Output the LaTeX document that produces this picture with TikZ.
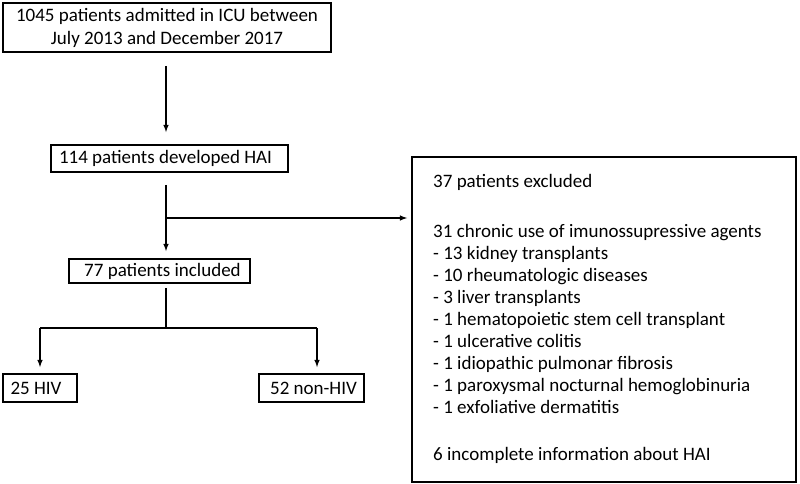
\documentclass[tikz,border=0pt]{standalone}
\usepackage{fontspec}
\setmainfont{Carlito}
\usetikzlibrary{positioning,arrows}
\tikzset{
box/.style={draw, line width=1.8pt, inner sep=0pt, align=center},
arr/.style={-latex, line width=1.5pt},
ln/.style={line width=1.5pt}
}

\begin{document}
\begin{tikzpicture}[x=1pt,y=-1pt,font=\fontsize{19}{23}\selectfont]
\useasboundingbox (0,0) rectangle (800,484);
% boxes
\node[box, minimum width=328pt, minimum height=49pt] (adm) at (167,27.5) {1045 patients admitted in ICU between\\July 2013 and December 2017};
\node[box, minimum width=237pt, minimum height=27pt] (hai) at (169.5,158.5) {114 patients developed HAI\hspace{8pt}};
\node[box, minimum width=181pt, minimum height=24pt] (incl) at (159.5,271) {\hspace{6pt}77 patients included};
\node[box, minimum width=74pt, minimum height=28pt] (hiv) at (40,388) {25 HIV\hspace{8pt}};
\node[box, minimum width=105pt, minimum height=28pt] (nonhiv) at (311.5,388) {\hspace{4pt}52 non-HIV};
\node[box, minimum width=384pt, minimum height=325pt] (excl) at (604,319.5) {};
\node[anchor=north west, align=left, inner sep=0pt, font=\fontsize{19}{22}\selectfont] (excltxt) at (433,174) {37 patients excluded\\[28pt]
31 chronic use of imunossupressive agents\\
- 13 kidney transplants\\
- 10 rheumatologic diseases\\
- 3 liver transplants\\
- 1 hematopoietic stem cell transplant\\
- 1 ulcerative colitis\\
- 1 idiopathic pulmonar fibrosis\\
- 1 paroxysmal nocturnal hemoglobinuria\\
- 1 exfoliative dermatitis\\[25pt]
6 incomplete information about HAI};
% connectors
\coordinate (split) at (166,218);
\coordinate (fork) at (166,328);
\coordinate (forkL) at (40,328);
\coordinate (forkR) at (317,328);
\draw[arr, shorten <=13pt, shorten >=12pt] (adm.south -| split) -- (hai.north -| split);
\draw[ln, shorten <=12pt] (hai.south -| split) -- (split);
\draw[arr, shorten >=7pt] (split) -- (incl.north -| split);
\draw[arr, shorten >=4pt] (split) -- (excl.west |- split);
\draw[ln, shorten <=4pt] (incl.south -| fork) -- (fork);
\draw[ln] (forkL) -- (forkR);
\draw[arr, shorten >=6pt] (forkL) -- (hiv.north -| forkL);
\draw[arr, shorten >=6pt] (forkR) -- (nonhiv.north -| forkR);
\end{tikzpicture}
\end{document}
